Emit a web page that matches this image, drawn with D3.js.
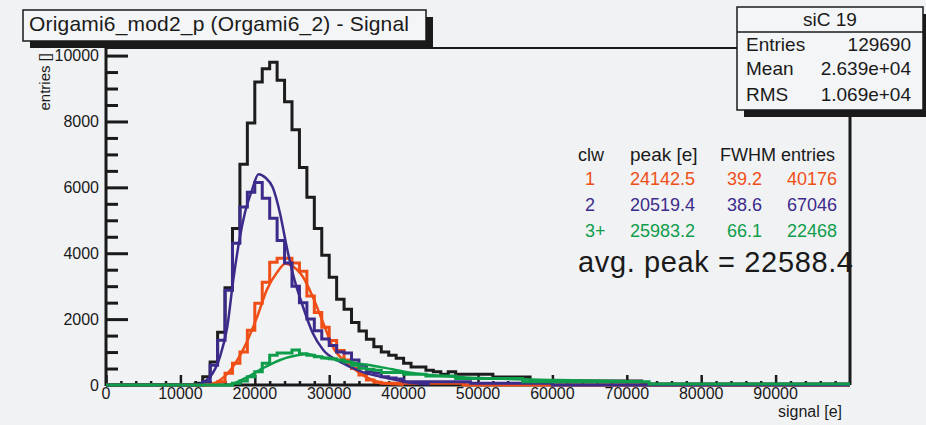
<!DOCTYPE html>
<html>
<head>
<meta charset="utf-8">
<script src="https://cdn.jsdelivr.net/npm/d3@7"></script>
<style>
  body { margin: 0; background: #ffffff; }
  svg text { font-family: "Liberation Sans", Arial, sans-serif; fill: #1a1a1a; }
</style>
</head>
<body>
<div id="vis"></div>
<script>
// histogram binning: 1 ke bins from 0 to 100 ke
const binWidth = 1000
const xMax = 100000

// all clusters (black), counts from allFrom upwards
const allFrom = 12000
const allCounts = [50, 250, 700, 1600, 2950, 4750, 6700, 7950, 9200, 9600,
  9800, 9250, 8600, 7750, 6600, 5700, 4750, 3940, 3270, 2600,
  2300, 1900, 1640, 1390, 1160, 1000, 900, 810, 660, 550,
  550, 450, 400, 330, 400, 330, 330, 330, 330, 330,
  240, 240, 240, 240, 240, 120, 120, 120, 120, 120,
  120, 120, 120, 120, 120, 120, 120, 120, 120, 120,
  30, 30, 30, 30, 30, 30, 30, 30, 30, 30,
  30, 30, 30, 30, 30, 30, 30, 30, 30, 30,
  30, 30, 30, 30, 30, 30, 30, 30]

// cluster width 1 (orange)
const clw1From = 14000
const clw1Counts = [30, 100, 360, 660, 1000, 1660, 2480, 3120, 3730, 3850,
  3850, 3700, 3450, 2700, 2200, 1750, 1350, 1050, 760, 500,
  300, 150, 80, 50, 50, 50, 50, 50, 50, 50,
  50, 50, 50, 50]

// cluster width 2 (purple)
const clw2From = 13000
const clw2Counts = [100, 600, 1360, 2880, 4300, 5400, 5850, 6150, 5670, 5060,
  4390, 3700, 3000, 2500, 2000, 1650, 1400, 1200, 1000, 970,
  760, 600, 400, 360, 250, 210, 180, 100, 100, 100,
  100, 100, 100, 100, 100, 100, 50, 50, 50, 50,
  50, 50, 50, 50, 50, 50, 50]

// cluster width 3+ (green)
const clw3From = 17000
const clw3Counts = [50, 120, 250, 400, 660, 900, 970, 970, 1060, 950,
  900, 860, 820, 800, 760, 700, 600, 510, 480, 450,
  380, 380, 380, 330, 330, 330, 270, 270, 270, 270,
  200, 200, 200, 200, 200, 200, 200, 200, 200, 100,
  100, 100, 100, 100, 100, 100, 100, 100, 100, 100,
  100, 100, 100, 100, 100, 100, 30, 30, 30, 30,
  30, 30, 30, 30, 30, 30, 30, 30, 30, 30,
  30, 30, 30, 30, 30, 30, 30, 30, 30, 30,
  30, 30, 30]

// fitted curves, [signal, entries]
const clw1Fit = [[13500, 0], [14900, 90], [16700, 450], [18400, 1060], [20300, 2060],
  [21600, 2880], [23000, 3420], [24100, 3680], [25100, 3600], [26500, 3270],
  [27800, 2670], [29200, 1880], [30500, 1150], [32400, 670], [34100, 360],
  [37200, 60], [40000, 10]]
const clw2Fit = [[12200, 0], [14000, 250], [15300, 850], [16300, 1760], [17100, 3180],
  [18000, 4490], [18700, 5250], [19600, 5900], [20500, 6400], [21400, 6300],
  [22400, 6000], [23400, 5200], [24300, 4180], [25100, 3390], [26500, 2360],
  [27800, 1570], [29200, 1060], [31500, 700], [34500, 390], [37800, 210],
  [41300, 60], [43500, 20]]
const clw3Fit = [[16700, 0], [19000, 240], [21100, 510], [23400, 760], [25700, 900],
  [27000, 940], [28800, 850], [31100, 760], [33700, 660], [36800, 550],
  [40500, 390], [43600, 300], [50300, 210], [60600, 150], [72200, 110]]

// legend table
const tableHeader = ['clw', 'peak [e]', 'FWHM', 'entries']
const clwLabels = ['1', '2', '3+']
const peakValues = ['24142.5', '20519.4', '25983.2']
const fwhmValues = ['39.2', '38.6', '66.1']
const entryValues = ['40176', '67046', '22468']
const avgPeak = 'avg. peak = 22588.4'

// stats box
const statsTitle = 'siC 19'
const statsNames = ['Entries', 'Mean', 'RMS']
const statsValues = ['129690', '2.639e+04', '1.069e+04']

const title = 'Origami6_mod2_p (Orgami6_2) - Signal'
const xTicks = [0, 10000, 20000, 30000, 40000, 50000, 60000, 70000, 80000, 90000]
const yTicks = [0, 2000, 4000, 6000, 8000, 10000]

const colors = {all: '#1c1c1c', clw1: '#ef4f16', clw2: '#3d2b8b', clw3: '#0e9d4b'}
const bg = '#f1f2f4'

const W = 926, H = 425
const frame = {left: 106, right: 850, top: 48, bottom: 385}

const svg = d3.select('#vis').append('svg')
  .attr('width', W).attr('height', H)

svg.append('rect').attr('x', 0).attr('y', 0).attr('width', W).attr('height', H)
  .attr('fill', bg)

const x = d3.scaleLinear([0, xMax], [frame.left, frame.right])
const y = d3.scaleLinear([0, 10230], [frame.bottom, frame.top])

// expand counts into full 0..100k bins
function fullBins(from, counts){
  const first = from / binWidth
  const bins = []
  for (let i = 0; i < xMax / binWidth; i++){
    const k = i - first
    bins.push([i * binWidth, (k >= 0 && k < counts.length) ? counts[k] : 0])
  }
  bins.push([xMax, bins[bins.length - 1][1]])
  return bins
}

const stepLine = d3.line()
  .x(d => x(d[0])).y(d => y(d[1]))
  .curve(d3.curveStepAfter)

const fitLine = d3.line()
  .x(d => x(d[0])).y(d => y(d[1]))
  .curve(d3.curveMonotoneX)

svg.append('clipPath').attr('id', 'plotclip')
  .append('rect')
    .attr('x', frame.left).attr('y', frame.top - 2)
    .attr('width', frame.right - frame.left).attr('height', frame.bottom - frame.top + 4)

// axes ticks (ROOT style, inside the frame)
let yAxis = d3.axisRight(y)
  .tickValues(d3.range(0, 10001, 500))
  .tickSize(0)
  .tickFormat('')
let yg = svg.append('g')
  .attr('transform', `translate(${frame.left}, 0)`)
  .call(yAxis)
  .call(g => g.select('.domain').remove())
yg.selectAll('.tick line')
  .attr('x2', d => d % 2000 === 0 ? 22 : 12)
  .attr('stroke', '#1a1a1a').attr('stroke-width', 3)

let xAxis = d3.axisTop(x)
  .tickValues(d3.range(0, xMax, 2000))
  .tickSize(0)
  .tickFormat('')
let xg = svg.append('g')
  .attr('transform', `translate(0, ${frame.bottom})`)
  .call(xAxis)
  .call(g => g.select('.domain').remove())
xg.selectAll('.tick line')
  .attr('y2', d => d % 10000 === 0 ? -10 : -4)
  .attr('stroke', '#1a1a1a').attr('stroke-width', 2.5)

// frame
svg.append('line').attr('x1', frame.left).attr('x2', frame.right)
  .attr('y1', frame.top).attr('y2', frame.top)
  .attr('stroke', '#1a1a1a').attr('stroke-width', 2)
svg.append('line').attr('x1', frame.right).attr('x2', frame.right)
  .attr('y1', frame.top).attr('y2', frame.bottom)
  .attr('stroke', '#1a1a1a').attr('stroke-width', 3)
svg.append('line').attr('x1', frame.left).attr('x2', frame.right)
  .attr('y1', frame.bottom).attr('y2', frame.bottom)
  .attr('stroke', '#1a1a1a').attr('stroke-width', 3)
svg.append('line').attr('x1', frame.left).attr('x2', frame.left)
  .attr('y1', frame.top).attr('y2', frame.bottom + 1)
  .attr('stroke', '#1a1a1a').attr('stroke-width', 3)

// histograms and fits
const plot = svg.append('g').attr('clip-path', 'url(#plotclip)')
const series = [
  {bins: fullBins(allFrom, allCounts), color: colors.all},
  {bins: fullBins(clw1From, clw1Counts), fit: clw1Fit, color: colors.clw1},
  {bins: fullBins(clw2From, clw2Counts), fit: clw2Fit, color: colors.clw2},
  {bins: fullBins(clw3From, clw3Counts), fit: clw3Fit, color: colors.clw3}
]
series.forEach(s => {
  plot.append('path')
    .attr('d', stepLine(s.bins))
    .attr('fill', 'none')
    .attr('stroke', s.color)
    .attr('stroke-width', 3)
  if (s.fit){
    plot.append('path')
      .attr('d', fitLine(s.fit))
      .attr('fill', 'none')
      .attr('stroke', s.color)
      .attr('stroke-width', 2.5)
  }
})

// tick labels
svg.selectAll('.xlab')
  .data(xTicks).enter()
  .append('text')
    .attr('class', 'xlab')
    .attr('x', d => x(d))
    .attr('y', 399)
    .attr('text-anchor', 'middle')
    .attr('font-size', 16)
    .text(d => d)

svg.selectAll('.ylab')
  .data(yTicks).enter()
  .append('text')
    .attr('class', 'ylab')
    .attr('x', 99)
    .attr('y', d => y(d))
    .attr('dy', '0.35em')
    .attr('text-anchor', 'end')
    .attr('font-size', 16)
    .text(d => d)

svg.append('text')
  .attr('x', 842).attr('y', 417)
  .attr('text-anchor', 'end')
  .attr('font-size', 16)
  .text('signal [e]')

svg.append('text')
  .attr('transform', 'translate(50, 53) rotate(-90)')
  .attr('text-anchor', 'end')
  .attr('font-size', 15)
  .text('entries []')

// title box with shadow
svg.append('rect').attr('x', 30).attr('y', 17).attr('width', 403).attr('height', 31)
  .attr('fill', '#1a1a1a')
svg.append('rect').attr('x', 23).attr('y', 10).attr('width', 403).attr('height', 31)
  .attr('fill', '#f4f5f7').attr('stroke', '#1a1a1a').attr('stroke-width', 1.5)
svg.append('text')
  .attr('x', 29).attr('y', 31)
  .attr('font-size', 21)
  .attr('textLength', 380)
  .text(title)

// stats box with shadow
svg.append('rect').attr('x', 744).attr('y', 14).attr('width', 186).attr('height', 103)
  .attr('fill', '#1a1a1a')
svg.append('rect').attr('x', 737).attr('y', 7).attr('width', 186).attr('height', 103)
  .attr('fill', '#f4f5f7').attr('stroke', '#1a1a1a').attr('stroke-width', 1.5)
svg.append('line').attr('x1', 737).attr('x2', 923).attr('y1', 32).attr('y2', 32)
  .attr('stroke', '#1a1a1a').attr('stroke-width', 1.5)
svg.append('text')
  .attr('x', 830).attr('y', 26)
  .attr('text-anchor', 'middle')
  .attr('font-size', 19)
  .text(statsTitle)
const statsY = [51, 75, 101]
statsNames.forEach((n, i) => {
  svg.append('text').attr('x', 746).attr('y', statsY[i]).attr('font-size', 19).text(n)
  svg.append('text').attr('x', 911).attr('y', statsY[i]).attr('font-size', 19)
    .attr('text-anchor', 'end').text(statsValues[i])
})

// legend table
const colX = [585, 630, 727, 787]
const headerX = [578, 630, 720, 781]
const rowY = [185, 211, 237]
const rowColors = [colors.clw1, colors.clw2, colors.clw3]
tableHeader.forEach((h, j) => {
  svg.append('text').attr('x', headerX[j]).attr('y', 161)
    .attr('font-size', j === 1 ? 19 : 18)
    .text(h)
})
const rows = clwLabels.map((c, i) => [c, peakValues[i], fwhmValues[i], entryValues[i]])
rows.forEach((r, i) => {
  r.forEach((v, j) => {
    svg.append('text').attr('x', colX[j]).attr('y', rowY[i])
      .attr('font-size', 18)
      .style('fill', rowColors[i])
      .text(v)
  })
})
svg.append('text').attr('x', 578).attr('y', 272)
  .attr('font-size', 29)
  .attr('textLength', 275)
  .text(avgPeak)
</script>
</body>
</html>
